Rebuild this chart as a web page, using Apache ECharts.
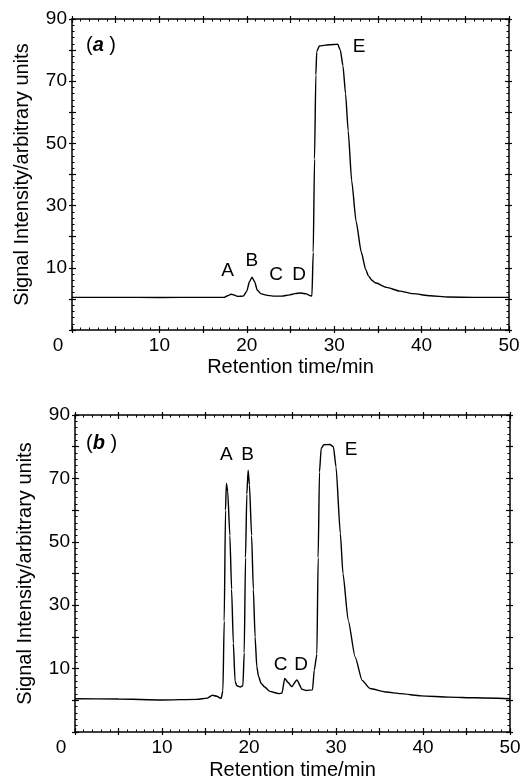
<!DOCTYPE html>
<html>
<head>
<meta charset="utf-8">
<script src="https://cdn.jsdelivr.net/npm/echarts@6/dist/echarts.min.js"></script>
<style>
  html, body { margin: 0; padding: 0; background: #fff; }
  #chart { width: 524px; height: 783px; }
</style>
</head>
<body>
<div id="chart"></div>
<script>
// (a) chromatogram
const timeA = [0, 5, 10, 15, 17.4, 17.8, 18.2, 18.6, 19.0, 19.6, 20.0, 20.3, 20.6, 20.9, 21.2, 21.6, 22.2, 23.0, 24.0, 24.9, 25.5, 26.2, 26.8, 27.3, 27.45, 27.6, 27.75, 27.9, 28.0, 28.3, 29.0, 30.0, 30.4, 30.7, 31.0, 31.3, 31.6, 32.0, 32.5, 33.1, 33.6, 33.9, 34.3, 34.7, 36.0, 37.5, 39.0, 41.0, 43.0, 46.0, 50.0]
const signalA = [0.5, 0.5, 0.45, 0.5, 0.5, 1.0, 1.5, 1.2, 0.8, 0.9, 2.5, 5.5, 7.0, 5.5, 2.8, 1.7, 1.2, 0.9, 0.9, 1.3, 1.7, 1.9, 1.6, 1.0, 0.9, 15, 45, 72, 79.5, 81.3, 81.6, 81.8, 81.9, 80, 75, 66, 54, 38, 25, 15, 9.5, 7.5, 6.0, 5.2, 3.7, 2.5, 1.7, 1.0, 0.6, 0.5, 0.5]

// (b) chromatogram
const timeB = [0, 5, 10, 14, 15.2, 15.8, 16.3, 16.8, 17.0, 17.15, 17.3, 17.4, 17.55, 17.8, 18.0, 18.2, 18.4, 18.6, 19.0, 19.3, 19.45, 19.6, 19.75, 19.9, 20.05, 20.3, 20.5, 20.7, 20.9, 21.1, 21.4, 21.8, 22.4, 23.4, 23.8, 24.1, 24.5, 24.9, 25.5, 26.1, 26.6, 27.3, 27.5, 27.8, 27.95, 28.1, 28.3, 28.6, 29.3, 29.7, 30.0, 30.5, 30.8, 31.4, 32.2, 33.0, 33.9, 35.8, 37.4, 39.8, 43.0, 46.0, 50.0]
const signalB = [0.5, 0.4, 0.1, 0.3, 0.7, 1.6, 1.3, 0.6, 3, 25, 60, 68.4, 66, 52, 35, 18, 6, 4.6, 4.2, 4.6, 15, 45, 65, 72.6, 68, 52, 35, 20, 10.5, 7.5, 5.3, 4.2, 2.8, 2.1, 2.3, 6.9, 5.6, 4.3, 6.4, 3.5, 3.1, 3.3, 9.5, 14.5, 45, 72, 79.5, 80.6, 80.7, 80.0, 73.7, 52.6, 40, 25.3, 13.7, 6.3, 3.7, 2.6, 2.1, 1.4, 1.0, 0.8, 0.5]

// peak letters
const peakNames = ['A', 'B', 'C', 'D', 'E']
const peakTimeA = [17.85, 20.64, 23.4, 26.05, 32.9]
const peakPosA = [8.8, 12.0, 7.7, 7.7, 80.9]
const peakTimeB = [17.44, 19.9, 23.7, 26.06, 31.8]
const peakPosB = [77.4, 77.4, 11.0, 11.0, 78.9]

// tick labels
const xTickLabels = [0, 10, 20, 30, 40, 50]
const yTickLabels = [10, 30, 50, 70, 90]

const FONT = 'Liberation Sans, Arial, sans-serif'
const black = '#000'

const zip = (xs, ys) => xs.map((x, i) => [x, ys[i]])
const zipLabels = (xs, ys) => xs.map((x, i) => [x, ys[i], peakNames[i]])

// 4 axes per side: main one (line + inside ticks) and a twin with outside ticks, so major ticks cross the line
function xAxes (gi, nameGap) {
  const common = { type: 'value', gridIndex: gi, min: 0, max: 50, interval: 5, splitLine: { show: false } }
  const line = { onZero: false, lineStyle: { color: black, width: 1.5 } }
  const tickIn = { inside: true, length: 4, lineStyle: { color: black, width: 1.2 } }
  const tickOut = { inside: false, length: 3, lineStyle: { color: black, width: 1.2 } }
  const minor = { show: true, splitNumber: 5, length: 2.5, lineStyle: { color: black, width: 1 } }
  return [
    {
      ...common, position: 'bottom', axisLine: line, axisTick: tickIn, minorTick: minor,
      axisLabel: {
        color: black, fontFamily: FONT, fontSize: 19, margin: 6,
        formatter: v => v === 0 ? '{z|0}' : (xTickLabels.includes(v) ? String(v) : ''),
        rich: { z: { fontFamily: FONT, fontSize: 19, color: black, padding: [0, 28, 0, 0] } },
      },
      name: 'Retention time/min', nameLocation: 'middle', nameGap: nameGap,
      nameTextStyle: { color: black, fontFamily: FONT, fontSize: 20 },
    },
    { ...common, position: 'bottom', axisLine: { show: false, onZero: false }, axisTick: tickOut, axisLabel: { show: false } },
    { ...common, position: 'top', axisLine: line, axisTick: tickIn, minorTick: minor, axisLabel: { show: false } },
    { ...common, position: 'top', axisLine: { show: false, onZero: false }, axisTick: tickOut, axisLabel: { show: false } },
  ]
}

function yAxes (gi) {
  const common = { type: 'value', gridIndex: gi, min: -10, max: 90, interval: 10, splitLine: { show: false } }
  const line = { onZero: false, lineStyle: { color: black, width: 1.5 } }
  const tickIn = { inside: true, length: 4, lineStyle: { color: black, width: 1.2 } }
  const tickOut = { inside: false, length: 3, lineStyle: { color: black, width: 1.2 } }
  const minor = { show: true, splitNumber: 5, length: 2.5, lineStyle: { color: black, width: 1 } }
  return [
    {
      ...common, position: 'left', axisLine: line, axisTick: tickIn, minorTick: minor,
      axisLabel: {
        color: black, fontFamily: FONT, fontSize: 19, margin: 5,
        formatter: v => yTickLabels.includes(v) ? String(v) : '',
      },
      name: 'Signal Intensity/arbitrary units', nameLocation: 'middle', nameGap: 40,
      nameTextStyle: { color: black, fontFamily: FONT, fontSize: 20 },
    },
    { ...common, position: 'left', axisLine: { show: false, onZero: false }, axisTick: tickOut, axisLabel: { show: false } },
    { ...common, position: 'right', axisLine: line, axisTick: tickIn, minorTick: minor, axisLabel: { show: false } },
    { ...common, position: 'right', axisLine: { show: false, onZero: false }, axisTick: tickOut, axisLabel: { show: false } },
  ]
}

function traceSeries (axisIndex, data) {
  return {
    type: 'line', xAxisIndex: axisIndex, yAxisIndex: axisIndex, data: data,
    showSymbol: false, smooth: 0.2, smoothMonotone: 'x',
    lineStyle: { color: black, width: 1.4 },
  }
}

// letters sit centred on their data point
function letterSeries (axisIndex, data) {
  return {
    type: 'scatter', xAxisIndex: axisIndex, yAxisIndex: axisIndex, data: data, silent: true,
    symbolSize: 1, itemStyle: { color: 'rgba(0,0,0,0)' },
    label: {
      show: true, position: [0, 0], align: 'center', verticalAlign: 'middle',
      formatter: p => p.data[2], color: black, opacity: 1, textBorderWidth: 0,
      fontFamily: FONT, fontSize: 19,
    },
  }
}

const panelLabel = (txt, top) => ({
  type: 'text', left: 86, top: top,
  style: {
    text: '{p|(}{i|' + txt + '}{p| )}',
    rich: {
      p: { fontFamily: FONT, fontSize: 20, fill: black },
      i: { fontFamily: FONT, fontSize: 20, fontStyle: 'italic', fontWeight: 'bold', fill: black },
    },
  },
})

const chart = echarts.init(document.getElementById('chart'))
chart.setOption({
  animation: false,
  backgroundColor: '#fff',
  grid: [
    { left: 72, top: 19, width: 437, height: 311 },
    { left: 75, top: 415, width: 435, height: 317 },
  ],
  xAxis: [...xAxes(0, 27), ...xAxes(1, 28)],
  yAxis: [...yAxes(0), ...yAxes(1)],
  series: [
    traceSeries(0, zip(timeA, signalA)),
    traceSeries(4, zip(timeB, signalB)),
    letterSeries(0, zipLabels(peakTimeA, peakPosA)),
    letterSeries(4, zipLabels(peakTimeB, peakPosB)),
  ],
  graphic: [panelLabel('a', 35), panelLabel('b', 433)],
})
</script>
</body>
</html>
